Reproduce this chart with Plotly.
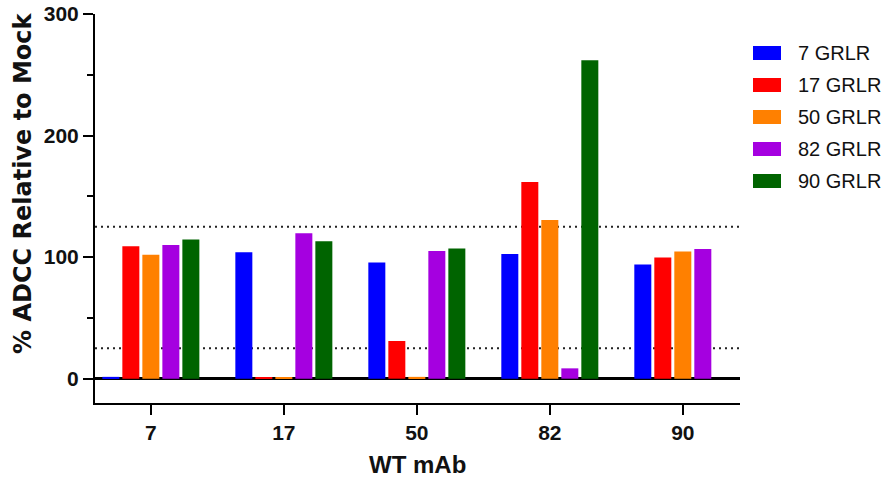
import plotly.graph_objects as go

# WT mAb groups on the x axis
wt_mab = ["7", "17", "50", "82", "90"]

# % ADCC relative to mock, one list per GRLR variant
series_names = ["7 GRLR", "17 GRLR", "50 GRLR", "82 GRLR", "90 GRLR"]
grlr_7 = [1.5, 104, 95.6, 102.5, 94]
grlr_17 = [109, 0.8, 31, 161.7, 99.7]
grlr_50 = [102, 0.8, 1.5, 130.6, 104.7]
grlr_82 = [110, 119.6, 105, 8.5, 106.6]
grlr_90 = [114.6, 113, 107, 262, 0]
series_values = [grlr_7, grlr_17, grlr_50, grlr_82, grlr_90]
series_colors = ["#0000FF", "#FF0000", "#FF8000", "#A500E0", "#006400"]

# reference thresholds drawn as dotted lines
thresholds = [25, 125]

y_ticks = [0, 100, 200, 300]

W, H = 886, 477
M_L, M_R, M_T, M_B = 95, 146, 14, 74
PLOT_W = W - M_L - M_R
PLOT_H = H - M_T - M_B


def px_x(px):
    return (px - M_L) / PLOT_W


def px_y(py):
    return (H - M_B - py) / PLOT_H


fig = go.Figure()
for name, vals, col in zip(series_names, series_values, series_colors):
    fig.add_trace(go.Bar(
        x=wt_mab, y=vals, name=name,
        marker=dict(color=col, line=dict(width=0)),
        showlegend=False,
    ))

shapes = []
for t in thresholds:
    shapes.append(dict(
        type="line", xref="paper", yref="y", x0=0, x1=1, y0=t, y1=t,
        line=dict(color="#222222", width=2, dash="2px,4px"), layer="below",
    ))

annotations = []
# legend: colour swatches with labels on the right
for i, (name, col) in enumerate(zip(series_names, series_colors)):
    cy = 53 + 32 * i
    shapes.append(dict(
        type="rect", xref="paper", yref="paper",
        x0=px_x(753), x1=px_x(781), y0=px_y(cy + 7), y1=px_y(cy - 7),
        fillcolor=col, line=dict(width=0),
    ))
    annotations.append(dict(
        xref="paper", yref="paper", x=px_x(796), y=px_y(cy),
        xanchor="left", yanchor="middle", showarrow=False, text=name,
        font=dict(family="Liberation Sans, Arial", size=20, color="#111111"),
    ))

# axis titles
annotations.append(dict(
    xref="paper", yref="paper", x=px_x(23), y=px_y(183),
    xanchor="center", yanchor="middle", showarrow=False, textangle=-90,
    text="% ADCC Relative to Mock",
    font=dict(family="DejaVu Sans", size=24, color="#111111", weight="bold"),
))
annotations.append(dict(
    xref="paper", yref="paper", x=0.5, y=px_y(464),
    xanchor="center", yanchor="middle", showarrow=False,
    text="WT mAb",
    font=dict(family="Liberation Sans, Arial", size=24, color="#111111", weight="bold"),
))

fig.update_layout(
    width=W, height=H, autosize=False,
    margin=dict(l=M_L, r=M_R, t=M_T, b=M_B, pad=0),
    paper_bgcolor="white", plot_bgcolor="white",
    barmode="group", bargap=0.248, bargroupgap=0.15,
    shapes=shapes, annotations=annotations,
    font=dict(family="Liberation Sans, Arial", color="#111111"),
)

fig.update_xaxes(
    type="category", range=[-0.42, 4.43], automargin=False,
    showline=True, linecolor="black", linewidth=2,
    ticks="outside", ticklen=10, tickwidth=2, tickcolor="black",
    showgrid=False, zeroline=False,
    tickfont=dict(family="Liberation Sans, Arial", size=21, color="#111111", weight="bold"),
)

fig.update_yaxes(
    range=[-20, 300], tickvals=y_ticks, automargin=False,
    showline=True, linecolor="black", linewidth=2,
    ticks="outside", ticklen=10, tickwidth=2, tickcolor="black",
    minor=dict(dtick=50, tick0=0, ticks="outside", ticklen=6, tickwidth=2, tickcolor="black"),
    showgrid=False,
    zeroline=True, zerolinecolor="black", zerolinewidth=2.5,
    tickfont=dict(family="Liberation Sans, Arial", size=21, color="#111111", weight="bold"),
)

fig.write_html("out.html")
